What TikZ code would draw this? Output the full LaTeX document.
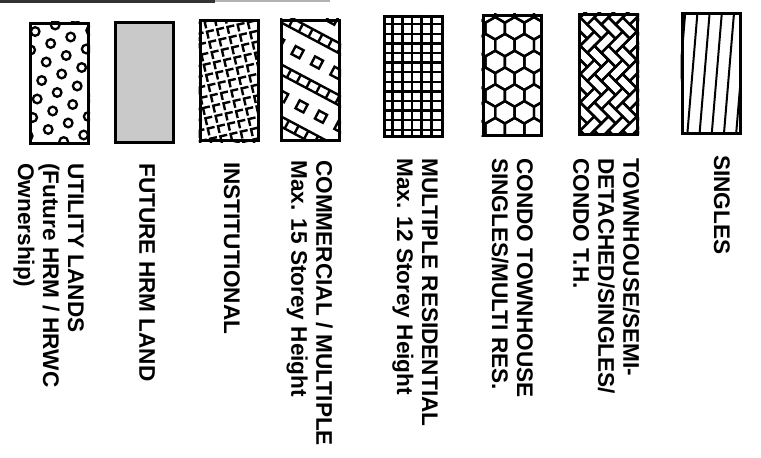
\documentclass[tikz,border=0pt]{standalone}
\usepackage{fontspec}
\setmainfont{Liberation Sans}
\usetikzlibrary{positioning}
\definecolor{hrm-grey}{rgb}{.79,.79,.79}

\begin{document}
\begin{tikzpicture}[x=1pt, y=-1pt,
    swatch/.style={draw, line width=3pt, minimum width=58pt, minimum height=120pt, inner sep=0pt},
    hatch/.style={line width=2.4pt},
    lbl/.style={rotate=-90, anchor=north west, inner sep=0pt, align=left,
      font=\fontsize{22.6}{25}\selectfont\bfseries}]
  \useasboundingbox (0,0) rectangle (761,458);
  % scan edge at the top
  \fill[black!80] (0,0) rectangle (215,3);
  \fill[black!30] (215,0) rectangle (330,2);

  % legend swatches
  \node[swatch] (utilbox) at (59.5,83) {};
  \node[swatch, fill=hrm-grey] (futbox) at (144,82.5) {};
  \node[swatch] (instbox) at (229,80.5) {};
  \node[swatch] (commbox) at (310.5,80) {};
  \node[swatch] (multbox) at (413.5,76) {};
  \node[swatch] (condobox) at (512,75) {};
  \node[swatch] (townbox) at (608.5,74) {};
  \node[swatch] (sglbox) at (711,73.5) {};

  % fillings, clipped to their swatch
  \begin{scope}
    \clip (utilbox.south west) rectangle (utilbox.north east);
    \begin{scope}[shift={(utilbox.north west)}]
      \foreach \i in {-3,...,4} \foreach \j in {-2,...,8}
        \draw[line width=2.3pt] (21.7+20*\i-4.5*\j, 22-6.5*\i+18.5*\j) circle[radius=4.3];
    \end{scope}
  \end{scope}
  \begin{scope}
    \clip (instbox.south west) rectangle (instbox.north east);
    \begin{scope}[shift={(instbox.center)}, rotate=13]
      \foreach \i in {-7,...,7} \foreach \j in {-8,...,8}
        \draw[hatch] (\i*10.5+7,\j*10.5) -- (\i*10.5,\j*10.5) -- (\i*10.5,\j*10.5+7);
    \end{scope}
  \end{scope}
  \begin{scope}
    \clip (commbox.south west) rectangle (commbox.north east);
    \begin{scope}[shift={(commbox.center)}, rotate=-28]
      \foreach \m in {-3,...,3} {
        \draw[hatch] (-90,46*\m) -- (90,46*\m) (-90,46*\m+9) -- (90,46*\m+9);
        \foreach \u in {-9,...,9} {
          \draw[hatch] (11*\u,46*\m) -- (11*\u,46*\m+9);
          \draw[hatch] (22*\u+7*\m,46*\m+23) rectangle ++(9,9);
        }
      }
    \end{scope}
  \end{scope}
  \begin{scope}
    \clip (multbox.south west) rectangle (multbox.north east);
    \begin{scope}[shift={(multbox.north west)}]
      \foreach \i in {1,...,5} \draw[hatch] (9.67*\i,0) -- (9.67*\i,120);
      \foreach \j in {1,...,12} \draw[hatch] (0,9.6*\j) -- (58,9.6*\j);
    \end{scope}
  \end{scope}
  \begin{scope}
    \clip (condobox.south west) rectangle (condobox.north east);
    \begin{scope}[shift={(condobox.north west)}]
      \foreach \r in {0,...,8} \foreach \c in {-1,...,3}
        \draw[hatch, shift={({19.4*\c+9.7*mod(\r,2)+4},{16.8*\r-2})}]
          (30:11.2) -- (90:11.2) -- (150:11.2) -- (210:11.2) -- (270:11.2) -- (330:11.2) -- cycle;
    \end{scope}
  \end{scope}
  \begin{scope}
    \clip (townbox.south west) rectangle (townbox.north east);
    \begin{scope}[shift={(townbox.center)}, rotate=45]
      \foreach \k in {-8,...,8} \foreach \n in {-4,...,4} {
        \draw[hatch] ({(\k+4*\n)*10},{\k*10}) rectangle ++(20,10);
        \draw[hatch] ({(\k+2+4*\n)*10},{(\k-1)*10}) rectangle ++(10,20);
      }
    \end{scope}
  \end{scope}
  \begin{scope}
    \clip (sglbox.south west) rectangle (sglbox.north east);
    \begin{scope}[shift={(sglbox.north west)}]
      \foreach \i in {-1,...,4}
        \draw[line width=2pt] (7+12.2*\i,120) -- (17+12.2*\i,0);
    \end{scope}
  \end{scope}

  % labels
  \node[lbl] (utiltxt) at (84,163) {UTILITY LANDS\\(Future HRM / HRWC\\Ownership)};
  \node[lbl] (futtxt) at (155,163) {FUTURE HRM LAND};
  \node[lbl] (insttxt) at (240,162) {INSTITUTIONAL};
  \node[lbl] (commtxt) at (333,160) {COMMERCIAL / MULTIPLE\\Max. 15 Storey Height};
  \node[lbl] (multtxt) at (438,158) {MULTIPLE RESIDENTIAL\\Max. 12 Storey Height};
  \node[lbl] (condotxt) at (533,158) {CONDO TOWNHOUSE\\SINGLES/MULTI RES.};
  \node[lbl] (towntxt) at (640,158) {TOWNHOUSE/SEMI-\\DETACHED/SINGLES/\\CONDO T.H.};
  \node[lbl] (sgltxt) at (730,155) {SINGLES};
\end{tikzpicture}
\end{document}
